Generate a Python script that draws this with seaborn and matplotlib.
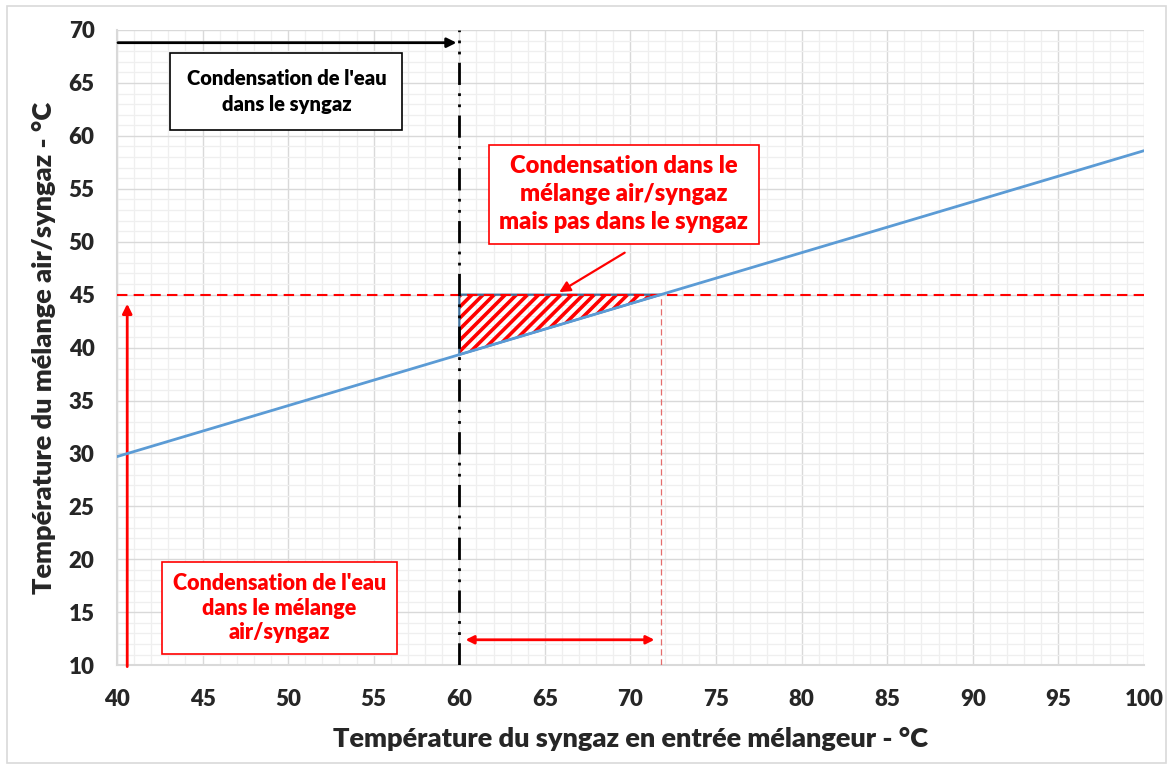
import numpy as np
import pandas as pd
import matplotlib
matplotlib.use("Agg")
import matplotlib.pyplot as plt
import seaborn as sns
from matplotlib.patches import Rectangle
from matplotlib.ticker import MultipleLocator

# Data
t_syngaz = [40, 100]
t_melange = [29.7, 58.6]
seuil_melange = 45.0       # dew point of the air/syngaz mix
seuil_syngaz = 60.0        # dew point of the syngaz
x_ticks = list(range(40, 101, 5))
y_ticks = list(range(10, 71, 5))

df = pd.DataFrame({'syngaz': t_syngaz, 'melange': t_melange})
pente = (t_melange[1] - t_melange[0]) / (t_syngaz[1] - t_syngaz[0])
x_croise = t_syngaz[0] + (seuil_melange - t_melange[0]) / pente

sns.set_style("white")
plt.rcParams['font.family'] = ['Lato', 'DejaVu Sans']
plt.rcParams['hatch.linewidth'] = 2.6
W = 'heavy'

fig = plt.figure(figsize=(11.73, 7.69), dpi=100)
ax = fig.add_axes([0.0997, 0.135, 0.8756, 0.826])

# grid like Excel
ax.xaxis.set_major_locator(MultipleLocator(5))
ax.yaxis.set_major_locator(MultipleLocator(5))
ax.xaxis.set_minor_locator(MultipleLocator(1))
ax.yaxis.set_minor_locator(MultipleLocator(1))
ax.grid(which='major', color='#D9D9D9', lw=1.0)
ax.grid(which='minor', color='#EFEFEF', lw=0.9)
ax.set_axisbelow(True)

# hatched zone: condensation in the mix but not in the syngaz
xz = np.array([seuil_syngaz, x_croise])
yz = t_melange[0] + pente * (xz - t_syngaz[0])
ax.fill_between(xz, yz, seuil_melange, facecolor='none', edgecolor='red',
                hatch='///', lw=0, zorder=2)
ax.fill_between(xz, yz, seuil_melange, facecolor='none', edgecolor='#41719C',
                lw=1.6, zorder=3)

sns.lineplot(data=df, x='syngaz', y='melange', ax=ax, color='#5B9BD5',
             lw=2, zorder=4)

ax.axhline(seuil_melange, color='red', lw=1.5, ls=(0, (5, 3)), zorder=3)
ax.axvline(seuil_syngaz, color='black', lw=2, ls=(0, (8, 3, 1, 3, 1, 3)), zorder=5)
ax.plot([x_croise, x_croise], [10, seuil_melange], color='#E46C6C', lw=0.9,
        ls=(0, (5, 3)), zorder=3)

# arrows
ax.annotate('', xy=(seuil_syngaz, 68.8), xytext=(39.9, 68.8),
            arrowprops=dict(arrowstyle='-|>', color='black', lw=2,
                            mutation_scale=14), annotation_clip=False)
ax.annotate('', xy=(40.6, 44.4), xytext=(40.6, 9.6),
            arrowprops=dict(arrowstyle='-|>', color='red', lw=2,
                            mutation_scale=14), annotation_clip=False)
ax.annotate('', xy=(x_croise - 0.2, 12.4), xytext=(seuil_syngaz + 0.2, 12.4),
            arrowprops=dict(arrowstyle='<|-|>', color='red', lw=2,
                            mutation_scale=12))
ax.annotate('', xy=(65.7, 45.1), xytext=(69.8, 49.1),
            arrowprops=dict(arrowstyle='-|>', color='red', lw=1.6,
                            mutation_scale=16))

# text boxes
ax.text(49.9, 64.2, "Condensation de l'eau\ndans le syngaz", ha='center',
        va='center', fontsize=14.5, fontweight=W, color='black',
        linespacing=1.45,
        bbox=dict(boxstyle='square,pad=0.8', fc='white', ec='black', lw=1.2),
        zorder=6)
ax.text(69.6, 54.5, "Condensation dans le\nmélange air/syngaz\nmais pas dans le syngaz",
        ha='center', va='center', fontsize=17, fontweight=W, color='red',
        linespacing=1.33,
        bbox=dict(boxstyle='square,pad=0.45', fc='white', ec='red', lw=1.2),
        zorder=6)
ax.text(49.5, 15.4, "Condensation de l'eau\ndans le mélange\nair/syngaz", ha='center',
        va='center', fontsize=15.5, fontweight=W, color='red',
        linespacing=1.22,
        bbox=dict(boxstyle='square,pad=0.5', fc='white', ec='red', lw=1.2),
        zorder=6)

ax.set_xlim(40, 100)
ax.set_ylim(10, 70)
ax.set_xticks(x_ticks)
ax.set_yticks(y_ticks)
ax.tick_params(axis='x', which='both', length=0, labelsize=16, pad=17)
ax.tick_params(axis='y', which='both', length=0, labelsize=16, pad=16)
for lab in ax.get_xticklabels() + ax.get_yticklabels():
    lab.set_fontweight(W)
ax.set_xlabel('Température du syngaz en entrée mélangeur - °C', fontsize=19.5,
              fontweight=W, labelpad=12)
ax.set_ylabel('Température du mélange air/syngaz - °C', fontsize=19.5,
              fontweight=W, labelpad=9)

for side in ['top', 'right']:
    ax.spines[side].set_visible(False)
for side in ['left', 'bottom']:
    ax.spines[side].set_color('#D9D9D9')
    ax.spines[side].set_linewidth(1.5)

# chart area border
fig.patches.append(Rectangle((0.006, 0.008), 0.988, 0.984, transform=fig.transFigure,
                             fill=False, ec='#D9D9D9', lw=1.2))

fig.savefig('out.png', dpi=100)
